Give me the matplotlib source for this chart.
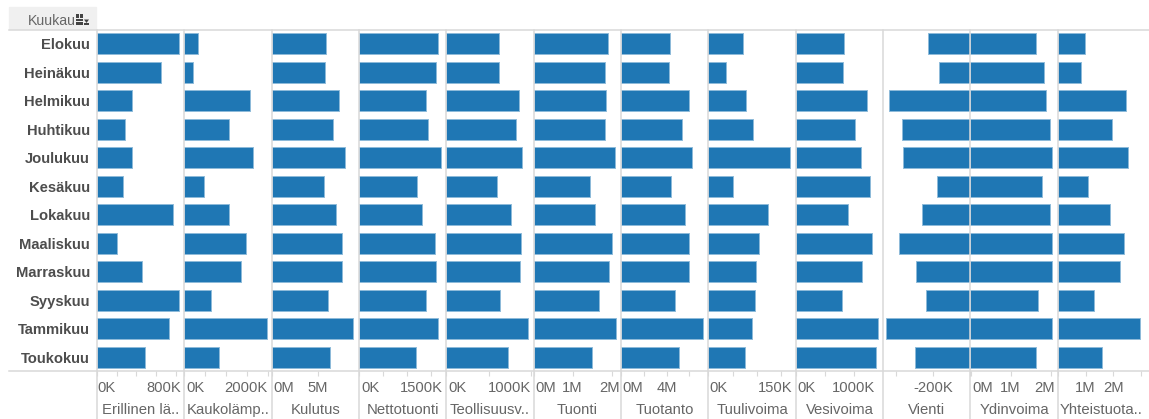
#!/usr/bin/env python3
import matplotlib

matplotlib.use("Agg")
import matplotlib.pyplot as plt
from matplotlib.lines import Line2D
from matplotlib.patches import Polygon, Rectangle
from matplotlib.transforms import ScaledTranslation

plt.rcParams["font.family"] = ["Liberation Sans", "DejaVu Sans"]

months = [
    "Elokuu", "Heinäkuu", "Helmikuu", "Huhtikuu", "Joulukuu", "Kesäkuu",
    "Lokakuu", "Maaliskuu", "Marraskuu", "Syyskuu", "Tammikuu", "Toukokuu",
]

# values per month, in the unit of each measure's tick labels (K or M)
erillinen = [831, 651, 356, 285, 356, 261, 770, 200, 461, 831, 735, 485]
kaukolampo = [335, 215, 1556, 1077, 1636, 471, 1077, 1468, 1357, 630, 1971, 830]
kulutus = [5.94, 5.80, 7.32, 6.70, 7.97, 5.69, 6.96, 7.61, 7.61, 6.09, 8.84, 6.30]
nettotuonti = [1657, 1608, 1412, 1440, 1706, 1216, 1321, 1587, 1608, 1412, 1657, 1195]
teollisuus = [619, 619, 855, 827, 894, 595, 768, 879, 867, 634, 961, 729]
tuonti = [1.906, 1.820, 1.854, 1.820, 2.086, 1.433, 1.579, 2.000, 1.940, 1.674, 2.120, 1.494]
tuotanto = [4.29, 4.21, 5.94, 5.32, 6.24, 4.41, 5.65, 5.94, 5.94, 4.71, 7.18, 5.12]
tuulivoima = [70.8, 36.8, 77.8, 92.4, 170, 51.4, 123.6, 104.2, 99.3, 97.2, 89.6, 75]
vesivoima = [825, 808, 1229, 1027, 1125, 1286, 906, 1310, 1142, 790, 1413, 1390]
vienti = [-230, -172, -441, -366, -361, -179, -260, -384, -291, -240, -454, -298]
ydinvoima = [1.64, 1.84, 1.875, 1.98, 2.04, 1.78, 1.98, 2.04, 2.04, 1.69, 2.04, 1.64]
yhteistuotanto = [0.97, 0.85, 2.44, 1.94, 2.53, 1.07, 1.86, 2.36, 2.23, 1.31, 2.95, 1.57]

# name, values, x limits, ticks, tick labels, label shift in pixels
panels = [
    ("Erillinen lä..", erillinen, (0, 887), [0, 200, 400, 600, 800],
     ["0K", "", "", "", "800K"], [10, 0, 0, 0, -12]),
    ("Kaukolämp..", kaukolampo, (0, 2084), [0, 500, 1000, 1500, 2000],
     ["0K", "", "", "", "2000K"], [11, 0, 0, 0, -22]),
    ("Kulutus", kulutus, (0, 9.48), [0, 5], ["0M", "5M"], [12.5, 0]),
    ("Nettotuonti", nettotuonti, (0, 1829), [0, 500, 1000, 1500],
     ["0K", "", "", "1500K"], [11, 0, 0, -9]),
    ("Teollisuusv..", teollisuus, (0, 1031), [0, 500, 1000],
     ["0K", "", "1000K"], [11, 0, -22]),
    ("Tuonti", tuonti, (0, 2.245), [0, 1, 2], ["0M", "1M", "2M"], [12, 0, -2.5]),
    ("Tuotanto", tuotanto, (0, 7.69), [0, 2, 4, 6], ["0M", "", "4M", ""], [12, 0, 0, 0]),
    ("Tuulivoima", tuulivoima, (0, 181.6), [0, 50, 100, 150],
     ["0K", "", "", "150K"], [10.5, 0, 0, -5]),
    ("Vesivoima", vesivoima, (0, 1509), [0, 500, 1000], ["0K", "", "1000K"], [11, 0, 0]),
    ("Vienti", vienti, (-470, 0), [-400, -200, 0], ["", "-200K", ""], [0, 0, 0]),
    ("Ydinvoima", ydinvoima, (0, 2.18), [0, 1, 2], ["0M", "1M", "2M"], [12.5, 0, -6]),
    ("Yhteistuota..", yhteistuotanto, (0, 3.14), [0, 1, 2, 3], ["", "1M", "2M", ""], [0, 0, 0, 0]),
]

WIDTH, HEIGHT = 1149, 419
GRID = "#d9d9d9"
BAR = "#1f77b4"
BAR_EDGE = "#8dbad9"
TEXT = "#666666"
LEFT, PANEL_W = 97.0, 87.35
TOP, BOTTOM = 29.6, 371.4


def fx(px):
    return px / WIDTH


def fy(py):
    return 1 - py / HEIGHT


fig = plt.figure(figsize=(WIDTH / 100, HEIGHT / 100), dpi=100)
positions = list(range(len(months)))

for i, (name, values, xlim, ticks, labels, shifts) in enumerate(panels):
    ax = fig.add_axes([fx(LEFT + i * PANEL_W), fy(BOTTOM), PANEL_W / WIDTH, (BOTTOM - TOP) / HEIGHT])
    ax.barh(positions, values, height=0.74, color=BAR, edgecolor=BAR_EDGE, linewidth=0.7)
    ax.set_xlim(*xlim)
    ax.set_ylim(len(months) - 0.5, -0.5)
    for side in ax.spines.values():
        side.set_visible(False)
    ax.set_xticks(ticks, labels)
    ax.tick_params(axis="x", length=3.6, width=0.8, color=GRID, labelcolor=TEXT,
                   labelsize=10.6, pad=3.5)
    for label, shift in zip(ax.get_xticklabels(), shifts):
        label.set_transform(label.get_transform() + ScaledTranslation(shift / 100, 0, fig.dpi_scale_trans))
    ax.set_xlabel(name, fontsize=10.7, color=TEXT, labelpad=5.5)
    if i == 0:
        ax.set_yticks(positions, months)
        ax.tick_params(axis="y", length=0, pad=5.2, labelsize=10.6, labelcolor="#4d4d4d")
        for label in ax.get_yticklabels():
            label.set_fontweight("bold")
    else:
        ax.set_yticks([])

# panel dividers and the header / axis rules
for i in range(len(panels)):
    x = fx(LEFT + i * PANEL_W)
    fig.add_artist(Line2D([x, x], [fy(TOP), 0], color=GRID, linewidth=1.1, zorder=5))
for y in (TOP, BOTTOM):
    fig.add_artist(Line2D([fx(9), 1], [fy(y), fy(y)], color=GRID, linewidth=1.1, zorder=5))

# field header with its sort icon
fig.add_artist(Rectangle((fx(9), fy(29)), 87 / WIDTH, 22 / HEIGHT, color="#f0f0f0", zorder=1))
fig.text(fx(28), fy(21), "Kuukau", fontsize=10.2, color="#666666", va="center", zorder=2)
fig.add_artist(Rectangle((fx(74.5), fy(28)), 15 / WIDTH, 16 / HEIGHT, color="#f0f0f0", zorder=3))
for x0, y0, w, h in [(76, 14, 3, 4), (80, 14, 3, 4), (76, 19, 7, 2), (76, 22.5, 7, 2.5), (84, 23.5, 5, 1.5)]:
    fig.add_artist(Rectangle((fx(x0), fy(y0 + h)), w / WIDTH, h / HEIGHT, color="#444444", linewidth=0, zorder=4))
fig.add_artist(Polygon([(fx(84), fy(19.5)), (fx(89), fy(19.5)), (fx(86.5), fy(23))],
                       closed=True, color="#444444", linewidth=0, zorder=4))

fig.savefig("out.png", dpi=100)
